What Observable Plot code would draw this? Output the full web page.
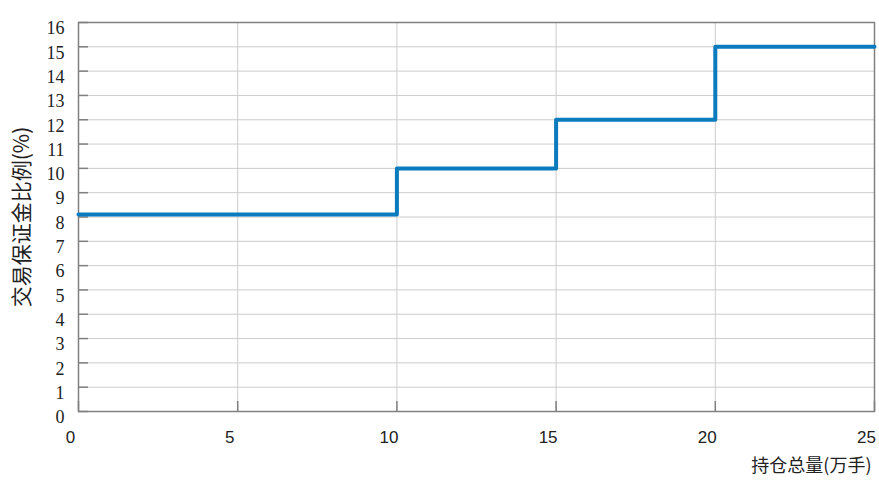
<!DOCTYPE html>
<html>
<head>
<meta charset="utf-8">
<script src="https://cdn.jsdelivr.net/npm/d3@7"></script>
<script src="https://cdn.jsdelivr.net/npm/@observablehq/plot@0.6"></script>
<style>
  html, body { margin: 0; padding: 0; background: #fff; }
  #chart svg { display: block; }
  #chart g[aria-label="ylabels"], #chart g[aria-label="ylabels"] text {
    font-family: "Liberation Serif", "Times New Roman", Times, serif !important;
  }
</style>
</head>
<body>
<div id="chart"></div>
<script>
// Data: total open interest (10k lots) thresholds and margin ratio (%)
const positions = [0, 10, 15, 20, 25];
const marginRatio = [8.1, 10, 12, 15, 15];
const xTicks = [0, 5, 10, 15, 20, 25];
const yTicks = [0, 1, 2, 3, 4, 5, 6, 7, 8, 9, 10, 11, 12, 13, 14, 15, 16];
const xTitle = "持仓总量(万手)";
const yTitle = "交易保证金比例(%)";

const data = positions.map((x, i) => ({x, y: marginRatio[i]}));

const cjk = "Noto Sans CJK SC";
const serif = "Liberation Serif";
const sans = "Liberation Sans";

const chart = Plot.plot({
  width: 879,
  height: 487,
  marginTop: 22,
  marginBottom: 76,
  marginLeft: 78,
  marginRight: 5,
  style: {background: "#fff"},
  x: {domain: [0, 25], axis: null},
  y: {domain: [0, 16], axis: null},
  marks: [
    Plot.gridX(xTicks, {stroke: "#cccccc", strokeOpacity: 1, strokeWidth: 1}),
    Plot.gridY(yTicks, {stroke: "#cccccc", strokeOpacity: 1, strokeWidth: 1}),
    // inward tick marks
    Plot.axisY(yTicks, {tickSize: -10, tickFormat: () => "", label: null, stroke: "#808080", strokeWidth: 1.5}),
    Plot.axisX(xTicks, {tickSize: -10, tickFormat: () => "", label: null, stroke: "#808080", strokeWidth: 1.5}),
    // tick labels
    Plot.text(yTicks, {y: d => d, text: d => String(d), frameAnchor: "left", textAnchor: "end",
      dx: -14, dy: 6, fontFamily: serif, fontSize: 18, fill: "#222", ariaLabel: "ylabels"}),
    Plot.text(xTicks, {x: d => d, text: d => String(d), frameAnchor: "bottom", textAnchor: "middle",
      dx: -8, dy: 31, fontFamily: sans, fontSize: 17, fill: "#222"}),
    Plot.frame({stroke: "#808080", strokeWidth: 1.5}),
    Plot.line(data, {x: "x", y: "y", curve: "step-after", stroke: "#0a7bbd", strokeWidth: 4}),
    // axis titles
    Plot.text([xTitle], {text: d => d, frameAnchor: "bottom-right", textAnchor: "end",
      dy: 60, dx: -3, fontFamily: cjk, fontSize: 18, fill: "#222"}),
    Plot.text([yTitle], {text: d => d, frameAnchor: "left", textAnchor: "middle", rotate: -90,
      dx: -56, fontFamily: cjk, fontSize: 21, fill: "#222"})
  ]
});

document.getElementById("chart").append(chart);
</script>
</body>
</html>
